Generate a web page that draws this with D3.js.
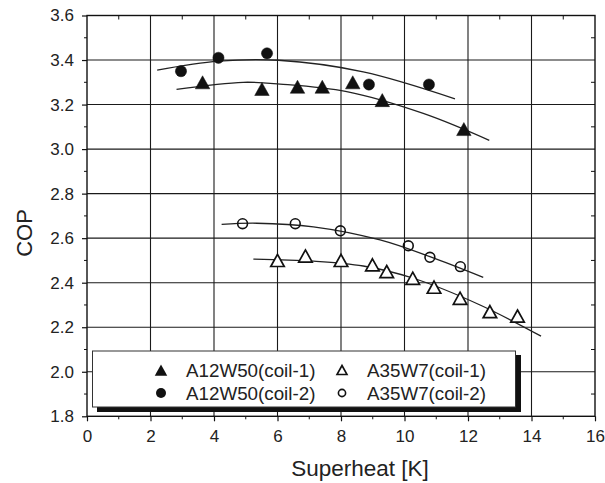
<!DOCTYPE html>
<html><head><meta charset="utf-8">
<script src="https://cdn.jsdelivr.net/npm/d3@7"></script>
<style>body{margin:0;background:#fff}svg{display:block}text{font-family:"Liberation Sans",Arial,sans-serif;fill:#222}</style>
</head><body>
<svg id="c" width="605" height="483"></svg>
<script>
// ---- data ----
const xTicks = [0,2,4,6,8,10,12,14,16];
const yTicks = [1.8,2.0,2.2,2.4,2.6,2.8,3.0,3.2,3.4,3.6];
const seriesNames = ["A12W50(coil-1)","A12W50(coil-2)","A35W7(coil-1)","A35W7(coil-2)"];
// A12W50 coil-1 (filled triangles)
const a12c1X = [3.64,5.51,6.63,7.41,8.37,9.30,11.87];
const a12c1Y = [3.30,3.27,3.28,3.28,3.30,3.22,3.09];
// A12W50 coil-2 (filled circles)
const a12c2X = [2.96,4.14,5.67,8.88,10.77];
const a12c2Y = [3.35,3.41,3.43,3.29,3.29];
// A35W7 coil-1 (open triangles)
const a35c1X = [6.00,6.88,8.00,8.99,9.44,10.26,10.93,11.75,12.69,13.56];
const a35c1Y = [2.50,2.52,2.50,2.48,2.45,2.42,2.38,2.33,2.27,2.25];
// A35W7 coil-2 (open circles)
const a35c2X = [4.90,6.56,7.98,10.12,10.80,11.76];
const a35c2Y = [2.665,2.665,2.633,2.566,2.514,2.472];
// fitted trend curves
const fitA12c1X = [2.82,4.92,6.08,8.18,10.59,12.67];
const fitA12c1Y = [3.268,3.30,3.292,3.258,3.16,3.039];
const fitA12c2X = [2.21,4.14,6.03,8.70,11.59];
const fitA12c2Y = [3.355,3.395,3.399,3.347,3.226];
const fitA35c1X = [5.24,7.13,8.70,10.28,12.38,14.30];
const fitA35c1Y = [2.506,2.497,2.475,2.42,2.30,2.16];
const fitA35c2X = [4.24,5.34,7.13,9.23,10.8,12.48];
const fitA35c2Y = [2.662,2.667,2.651,2.592,2.517,2.424];

// ---- chart ----
const svg = d3.select("#c");
const x = d3.scaleLinear().domain([0,16]).range([87,595]);
const y = d3.scaleLinear().domain([1.8,3.6]).range([416.3,15.5]);
const zip = (a,b)=>a.map((v,i)=>[v,b[i]]);

// grid
const g = svg.append("g");
g.selectAll(".gx").data(xTicks.slice(1,-1)).enter().append("line")
  .attr("x1",d=>x(d)).attr("x2",d=>x(d)).attr("y1",y(1.8)).attr("y2",y(3.6))
  .attr("stroke","#1a1a1a").attr("stroke-width",1.1);
g.selectAll(".gy").data(yTicks.slice(1,-1)).enter().append("line")
  .attr("y1",d=>y(d)).attr("y2",d=>y(d)).attr("x1",x(0)).attr("x2",x(16))
  .attr("stroke","#1a1a1a").attr("stroke-width",1.1);

// axes
const minorX = d3.range(1,16,2);
const minorY = d3.range(1.9,3.6,0.2);
const xAxis = d3.axisBottom(x).tickValues(xTicks).tickFormat(d3.format("d")).tickSize(5).tickPadding(6);
const yAxis = d3.axisLeft(y).tickValues(yTicks).tickFormat(d3.format(".1f")).tickSize(5).tickPadding(8);
const ax = svg.append("g").attr("transform",`translate(0,${y(1.8)})`).call(xAxis);
const ay = svg.append("g").attr("transform",`translate(${x(0)},0)`).call(yAxis);
[ax,ay].forEach(a=>{a.select(".domain").remove();a.selectAll("line").attr("stroke","#111").attr("stroke-width",1.2);
  a.selectAll("text").style("font-size","17px").attr("fill","#222");});
ax.selectAll("text").attr("dy","0.85em");
// minor ticks
svg.append("g").selectAll("line").data(minorX).enter().append("line")
  .attr("x1",d=>x(d)).attr("x2",d=>x(d)).attr("y1",y(1.8)).attr("y2",y(1.8)+3).attr("stroke","#111");
svg.append("g").selectAll("line").data(minorX).enter().append("line")
  .attr("x1",d=>x(d)).attr("x2",d=>x(d)).attr("y1",y(3.6)).attr("y2",y(3.6)+4).attr("stroke","#111");
svg.append("g").selectAll("line").data(minorY).enter().append("line")
  .attr("y1",d=>y(d)).attr("y2",d=>y(d)).attr("x1",x(0)-3).attr("x2",x(0)).attr("stroke","#111");
svg.append("g").selectAll("line").data(minorY).enter().append("line")
  .attr("y1",d=>y(d)).attr("y2",d=>y(d)).attr("x1",x(16)-4).attr("x2",x(16)).attr("stroke","#111");
// frame
svg.append("rect").attr("x",x(0)).attr("y",y(3.6)).attr("width",x(16)-x(0)).attr("height",y(1.8)-y(3.6))
  .attr("fill","none").attr("stroke","#111").attr("stroke-width",1.4);

// fit curves
const line = d3.line().x(d=>x(d[0])).y(d=>y(d[1])).curve(d3.curveCatmullRom);
[[fitA12c1X,fitA12c1Y],[fitA12c2X,fitA12c2Y],[fitA35c1X,fitA35c1Y],[fitA35c2X,fitA35c2Y]].forEach(([a,b])=>{
  svg.append("path").attr("d",line(zip(a,b))).attr("fill","none").attr("stroke","#222").attr("stroke-width",1.3);
});

// markers
const tri = s=>{const h=s*0.9;return `M0,${-h/2}L${s/2},${h/2}L${-s/2},${h/2}Z`;};
function drawTri(data,s,filled){
  svg.append("g").selectAll("path").data(data).enter().append("path")
    .attr("transform",d=>`translate(${x(d[0])},${y(d[1])})`).attr("d",tri(s))
    .attr("fill",filled?"#111":"#fff").attr("stroke","#111").attr("stroke-width",filled?0.5:1.7)
    .attr("stroke-linejoin","miter");
}
function drawCirc(data,r,filled){
  svg.append("g").selectAll("circle").data(data).enter().append("circle")
    .attr("cx",d=>x(d[0])).attr("cy",d=>y(d[1])).attr("r",r)
    .attr("fill",filled?"#111":"none").attr("stroke","#111").attr("stroke-width",filled?0.5:1.6);
}
drawTri(zip(a12c1X,a12c1Y),14.5,true);
drawCirc(zip(a12c2X,a12c2Y),5.6,true);
drawTri(zip(a35c1X,a35c1Y),13.5,false);
drawCirc(zip(a35c2X,a35c2Y),4.9,false);

// legend
const L = svg.append("g");
L.append("rect").attr("x",97).attr("y",355).attr("width",424).attr("height",57).attr("fill","#111");
L.append("rect").attr("x",92.5).attr("y",351).attr("width",423).attr("height",56).attr("fill","#fff").attr("stroke","#333").attr("stroke-width",1);
const legPos = [[161,370],[161,393],[342,370],[342,393]];
const legX = [186,186,367,367];
seriesNames.forEach((n,i)=>{
  const [lx,ly]=legPos[i];
  if(i===0) L.append("path").attr("transform",`translate(${lx},${ly})`).attr("d",tri(12.5)).attr("fill","#111");
  if(i===1) L.append("circle").attr("cx",lx).attr("cy",ly).attr("r",5).attr("fill","#111");
  if(i===2) L.append("path").attr("transform",`translate(${lx},${ly})`).attr("d",tri(10)).attr("fill","#fff").attr("stroke","#111").attr("stroke-width",1.6);
  if(i===3) L.append("circle").attr("cx",lx).attr("cy",ly).attr("r",3.6).attr("fill","#fff").attr("stroke","#111").attr("stroke-width",1.6);
  L.append("text").attr("x",legX[i]).attr("y",ly).attr("dy","0.36em").style("font-size","18.8px").text(n);
});

// axis titles
svg.append("text").attr("x",360).attr("y",476).attr("text-anchor","middle").style("font-size","22.5px").text("Superheat [K]");
svg.append("text").attr("transform","translate(32,233) rotate(-90)").attr("text-anchor","middle").style("font-size","22px").text("COP");
</script>
</body></html>
